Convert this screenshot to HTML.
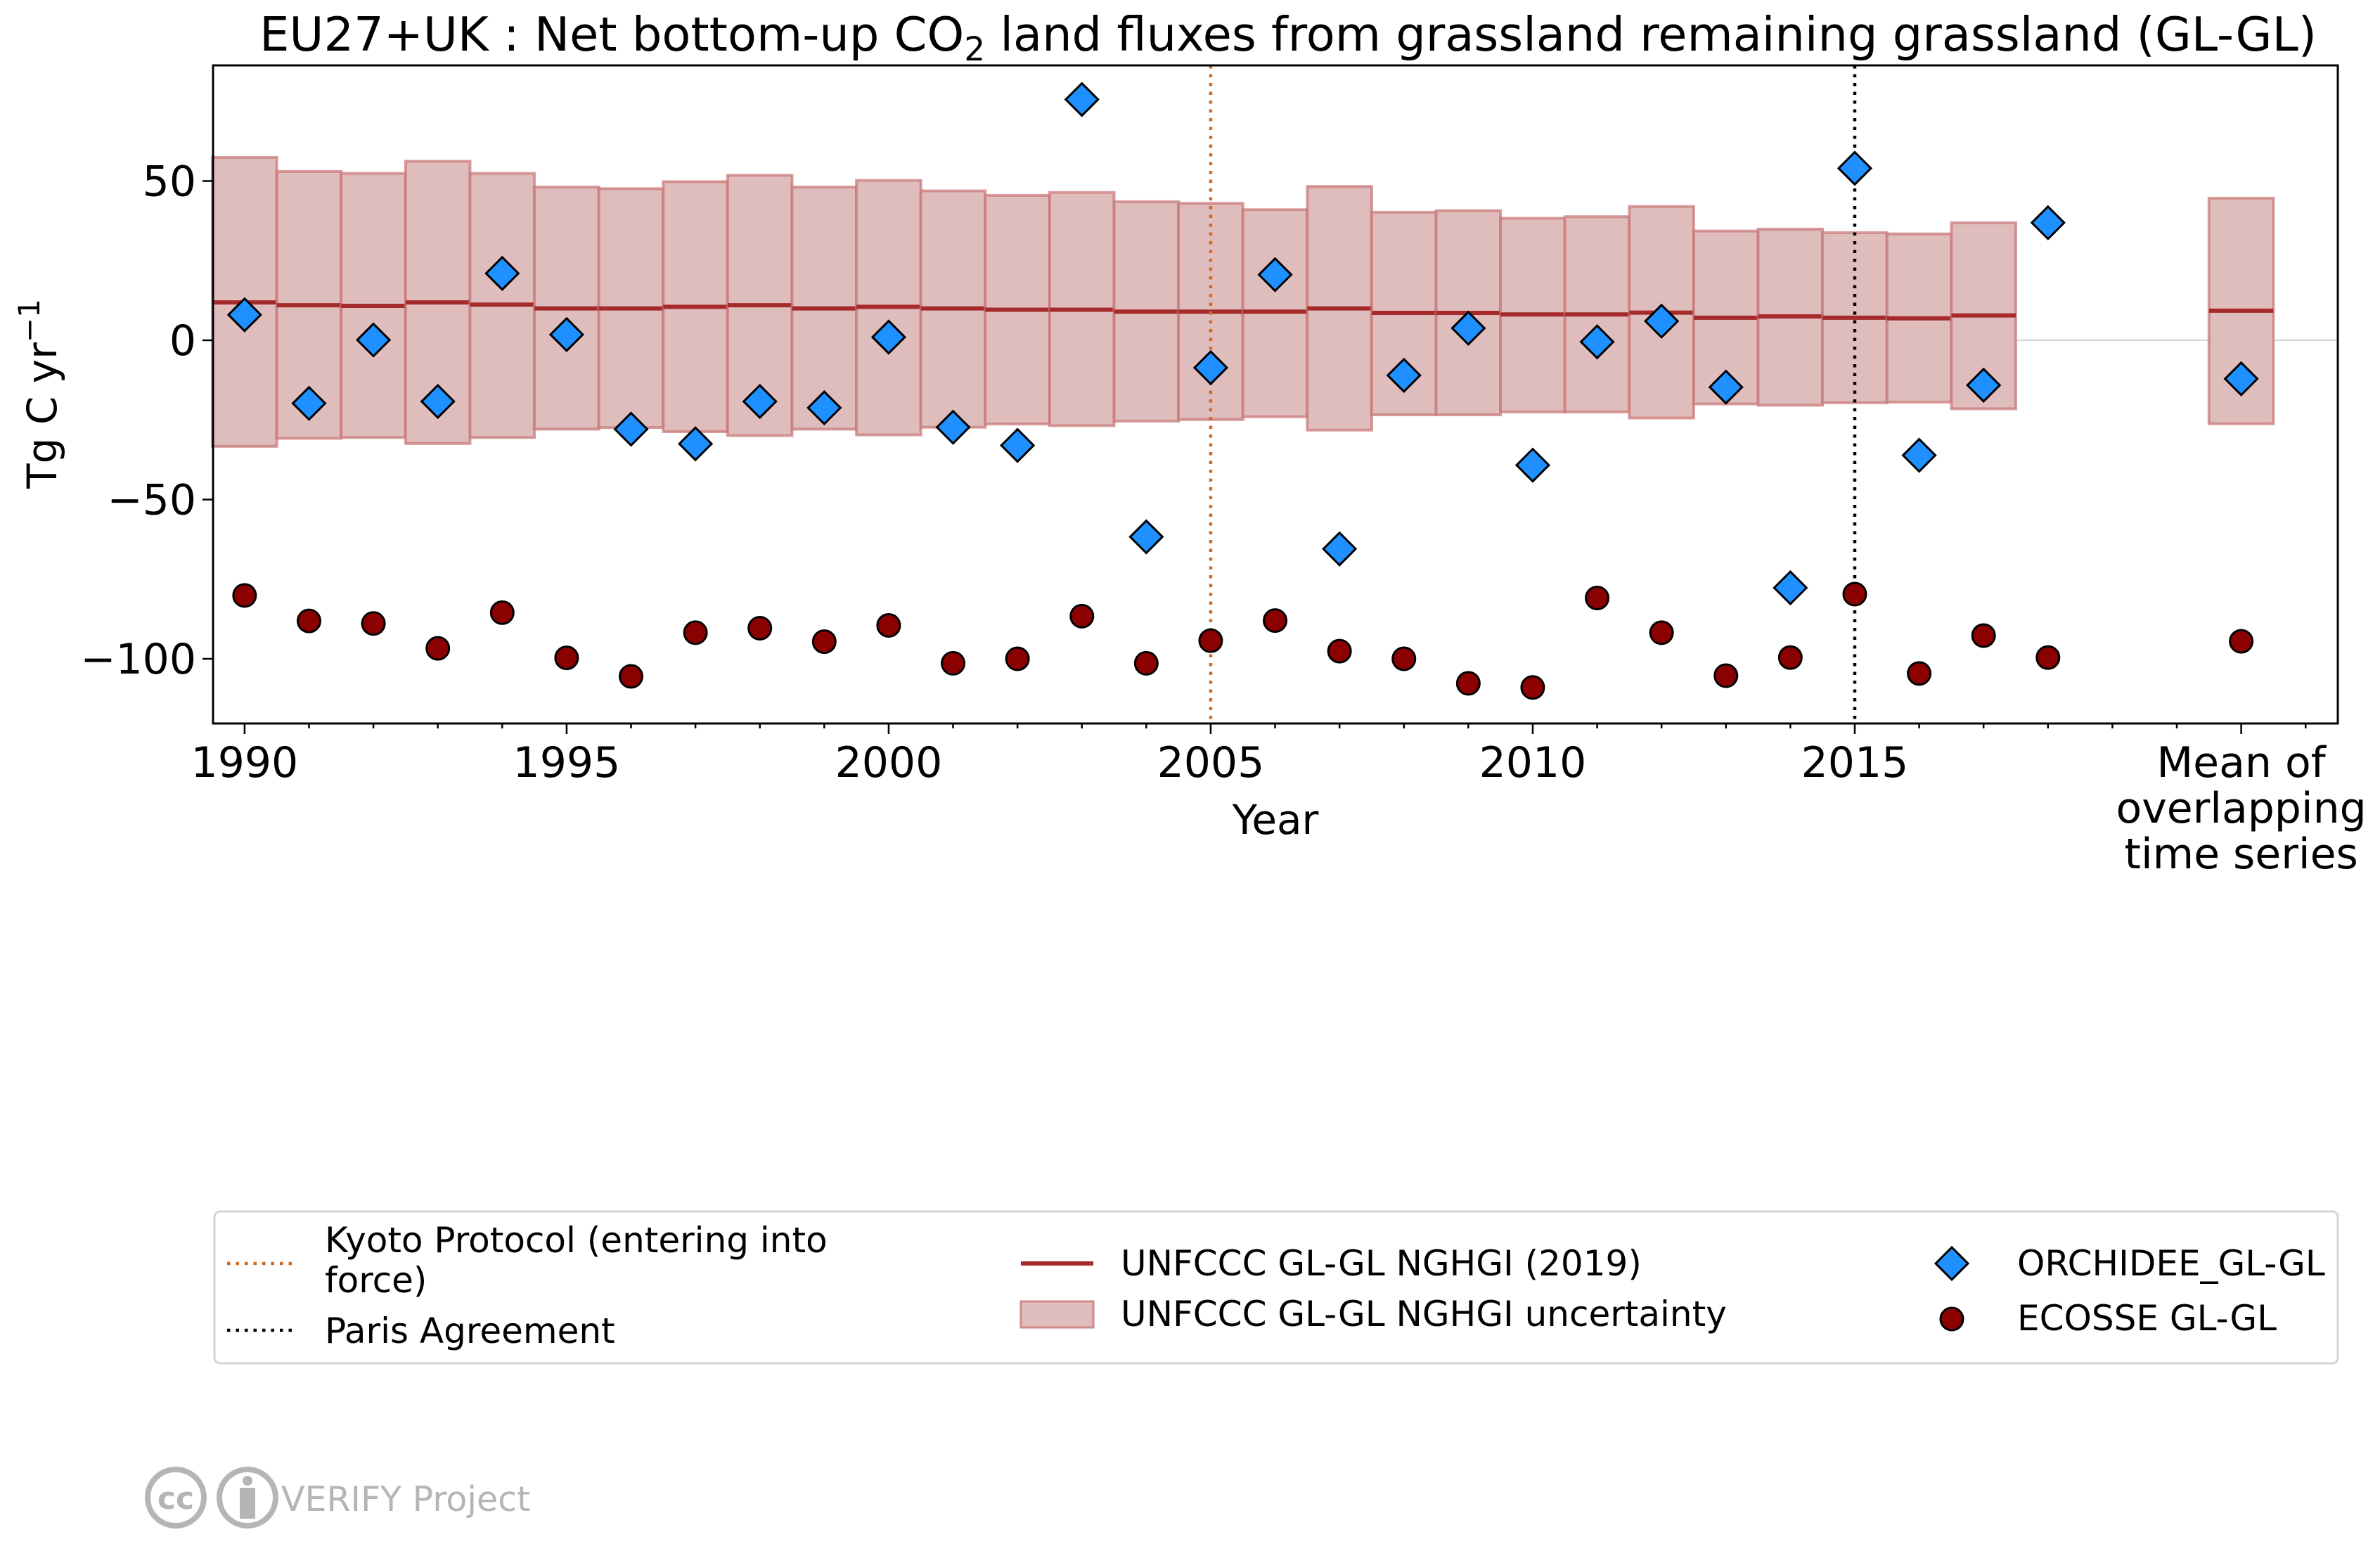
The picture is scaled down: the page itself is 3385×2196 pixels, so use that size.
<!DOCTYPE html>
<html><head><meta charset="utf-8"><style>
html,body{margin:0;padding:0;background:#fff;}
svg{display:block;font-family:"DejaVu Sans","Liberation Sans",sans-serif;}
</style></head><body>
<svg id="chart" width="3385" height="2196" viewBox="0 0 3385 2196" xmlns="http://www.w3.org/2000/svg">
<text x="1832" y="72" font-size="67" text-anchor="middle">EU27+UK : Net bottom-up CO<tspan font-size="47" dy="14">2</tspan><tspan dy="-14"> land fluxes from grassland remaining grassland (GL-GL)</tspan></text>
<g id="plot"></g>
<text transform="translate(80,560) rotate(-90)" font-size="58" text-anchor="middle">Tg C yr<tspan font-size="42" dy="-24">−1</tspan></text>
<text x="1814" y="1186" font-size="58" text-anchor="middle">Year</text>
<g>
<rect x="305" y="1723" width="3020" height="216" rx="8" fill="#fff" stroke="#d4d4d4" stroke-width="3"/>
<line x1="323" y1="1797" x2="416" y2="1797" stroke="#d2691e" stroke-width="4.5" stroke-dasharray="4.5,8"/>
<text x="462" y="1781" font-size="50">Kyoto Protocol (entering into</text>
<text x="462" y="1838" font-size="50">force)</text>
<line x1="323" y1="1892" x2="416" y2="1892" stroke="#000" stroke-width="4.5" stroke-dasharray="4.5,8"/>
<text x="462" y="1910" font-size="50">Paris Agreement</text>
<line x1="1452" y1="1797" x2="1555" y2="1797" stroke="#a52a2a" stroke-width="6"/>
<text x="1594" y="1814" font-size="50">UNFCCC GL-GL NGHGI (2019)</text>
<rect x="1452" y="1851" width="103" height="37" fill="#e0bdbd" stroke="#cf8a8a" stroke-width="3"/>
<text x="1594" y="1886" font-size="50">UNFCCC GL-GL NGHGI uncertainty</text>
<path d="M2776,1774 L2799,1797 L2776,1820 L2753,1797 Z" fill="#1e90ff" stroke="#000" stroke-width="3"/>
<text x="2869" y="1814" font-size="50">ORCHIDEE_GL-GL</text>
<circle cx="2776" cy="1876" r="16" fill="#8b0000" stroke="#000" stroke-width="3"/>
<text x="2869" y="1892" font-size="50">ECOSSE GL-GL</text>
</g>
<g fill="#b5b5b5">
<circle cx="250" cy="2130" r="40" fill="none" stroke="#b5b5b5" stroke-width="8"/>
<text x="250" y="2146" font-size="44" font-weight="bold" text-anchor="middle">cc</text>
<circle cx="352" cy="2130" r="40" fill="none" stroke="#b5b5b5" stroke-width="8"/>
<circle cx="352" cy="2106" r="7"/>
<rect x="341" y="2116" width="22" height="44"/>
<text x="400" y="2149" font-size="49">VERIFY Project</text>
</g>
</svg>
<script>
const years = [1990,1991,1992,1993,1994,1995,1996,1997,1998,1999,2000,2001,2002,2003,2004,2005,2006,2007,2008,2009,2010,2011,2012,2013,2014,2015,2016,2017,2018];
const unfcccMean = [11.9,11,10.8,11.9,11.2,10,10,10.5,11,10,10.5,10,9.6,9.6,9,9,9,10,8.6,8.6,8.1,8.1,8.7,7.1,7.5,7.1,6.9,7.8];
const unfcccHigh = [57.4,53,52.4,56.2,52.4,48.1,47.6,49.8,51.8,48.1,50.2,46.9,45.5,46.4,43.5,43,41,48.3,40.2,40.7,38.3,38.8,42,34.3,34.9,33.8,33.4,36.9];
const unfcccLow = [-33.3,-30.8,-30.5,-32.4,-30.5,-27.9,-27.4,-28.7,-29.9,-27.9,-29.7,-27.3,-26.3,-26.8,-25.4,-24.9,-24,-28.2,-23.4,-23.4,-22.5,-22.5,-24.4,-20,-20.4,-19.6,-19.4,-21.5];
const orchidee = [8,-19.8,0.1,-19.2,21,1.8,-27.9,-32.5,-19.2,-21.2,1,-27.3,-33,75.6,-61.7,-8.6,20.6,-65.5,-11,3.8,-39.2,-0.5,6,-14.7,-77.7,54,-36.1,-14.1,36.9];
const ecosse = [-80.1,-88.1,-88.9,-96.7,-85.5,-99.7,-105.5,-91.8,-90.4,-94.6,-89.5,-101.4,-100,-86.6,-101.4,-94.3,-88,-97.6,-100,-107.7,-109,-80.9,-91.8,-105.3,-99.6,-79.7,-104.6,-92.7,-99.6];
const meanUnfccc = [9.3, 44.6, -26.2];
const meanOrchidee = [-12.1];
const meanEcosse = [-94.5];
const yTicks = [-100,-50,0,50];
const xTickLabels = ['1990','1995','2000','2005','2010','2015'];
const kyotoYear = [2005];
const parisYear = [2015];

const NS='http://www.w3.org/2000/svg';
const L=303,R=3325,T=93,B=1029;
const xmin=-0.49,xmax=32.5,ymin=-120.3,ymax=86.3;
const MEANIDX=31;
function X(i){return L+(i-xmin)/(xmax-xmin)*(R-L);}
function Y(v){return B-(v-ymin)/(ymax-ymin)*(B-T);}
function yrIdx(y){return y-1990;}
const g=document.getElementById('plot');
function mk(tag,attrs,parent){const e=document.createElementNS(NS,tag);for(const k in attrs)e.setAttribute(k,attrs[k]);(parent||g).appendChild(e);return e;}

let zl=mk('line',{x1:L,x2:R,y1:Y(0),y2:Y(0),stroke:'#bbb','stroke-width':1.2});



function box(i,lo,hi,mean,name){
  let r=mk('rect',{x:X(i-0.5),y:Y(hi),width:X(i+0.5)-X(i-0.5),height:Y(lo)-Y(hi),fill:'#e0bdbd',stroke:'#c87575','stroke-width':4,'stroke-opacity':0.7});
  
  
  let l=mk('line',{x1:X(i-0.5),x2:X(i+0.5),y1:Y(mean),y2:Y(mean),stroke:'#a52a2a','stroke-width':6});
  
  
}
for(let i=0;i<unfcccMean.length;i++) box(i,unfcccLow[i],unfcccHigh[i],unfcccMean[i],'bar-'+years[i]);
box(MEANIDX,meanUnfccc[2],meanUnfccc[1],meanUnfccc[0],'bar-mean');

let kl=mk('line',{x1:X(yrIdx(kyotoYear[0])),x2:X(yrIdx(kyotoYear[0])),y1:T,y2:B,stroke:'#d2691e','stroke-width':4.5,'stroke-dasharray':'4.5,8'});


let pl=mk('line',{x1:X(yrIdx(parisYear[0])),x2:X(yrIdx(parisYear[0])),y1:T,y2:B,stroke:'#000','stroke-width':4.5,'stroke-dasharray':'4.5,8'});



function diamond(i,v,name){
  const cx=X(i),cy=Y(v),s=23;
  let d=mk('path',{d:`M${cx},${cy-s} L${cx+s},${cy} L${cx},${cy+s} L${cx-s},${cy} Z`,fill:'#1e90ff',stroke:'#000','stroke-width':3});
  
  
}
function circ(i,v,name){
  let c=mk('circle',{cx:X(i),cy:Y(v),r:16,fill:'#8b0000',stroke:'#000','stroke-width':3});
  
  
}
for(let i=0;i<ecosse.length;i++) circ(i,ecosse[i],'ecosse-point-'+years[i]);
circ(MEANIDX,meanEcosse[0],'ecosse-point-mean');
for(let i=0;i<orchidee.length;i++) diamond(i,orchidee[i],'orchidee-point-'+years[i]);
diamond(MEANIDX,meanOrchidee[0],'orchidee-point-mean');

let fr=mk('rect',{x:L,y:T,width:R-L,height:B-T,fill:'none',stroke:'#000','stroke-width':3});



yTicks.forEach(v=>{
  let t=mk('line',{x1:L-15,x2:L,y1:Y(v),y2:Y(v),stroke:'#000','stroke-width':2.5});
  
  
  let tx=mk('text',{x:L-24,y:Y(v)+21,'font-size':60,'text-anchor':'end'});
  tx.textContent=(v<0?'\u2212'+Math.abs(v):String(v));
  
  
});
for(let i=0;i<=32;i++){
  const major=(i%5===0&&i<=25)||i===MEANIDX;
  let t=mk('line',{x1:X(i),x2:X(i),y1:B,y2:B+(major?15:7),stroke:'#000','stroke-width':2.5});
  
  
}
xTickLabels.forEach(s=>{
  let tx=mk('text',{x:X(yrIdx(+s)),y:1105,'font-size':60,'text-anchor':'middle'});
  tx.textContent=s;
  
  
});
['Mean of','overlapping','time series'].forEach((s,k)=>{
  let tx=mk('text',{x:X(MEANIDX),y:1105+k*65,'font-size':60,'text-anchor':'middle'});
  tx.textContent=s;
  
  
});
</script>
</body></html>
